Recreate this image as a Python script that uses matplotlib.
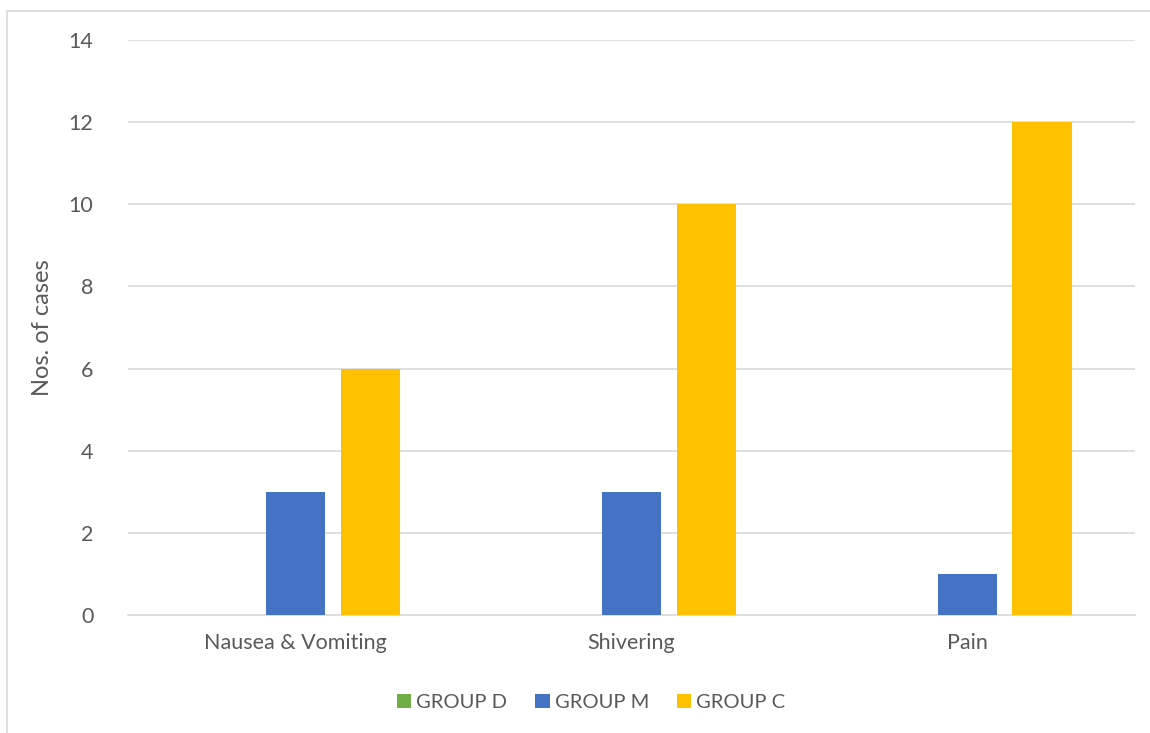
import numpy as np
import matplotlib.pyplot as plt
from matplotlib.patches import Rectangle

categories = ["Nausea & Vomiting", "Shivering", "Pain"]
groups = ["GROUP D", "GROUP M", "GROUP C"]
group_d = [0, 0, 0]
group_m = [3, 3, 1]
group_c = [6, 10, 12]
colors = ["#70AD47", "#4472C4", "#FFC000"]

plt.rcParams['font.family'] = ['Lato', 'DejaVu Sans']

fig = plt.figure(figsize=(11.5, 7.33), dpi=100)
ax = fig.add_axes([128 / 1150, 1 - 615 / 733, 1007 / 1150, 575 / 733])

# chart border like the Excel frame
fig.patches.append(Rectangle((7 / 1150, -0.01), 1.02, 1 - 11 / 733 + 0.01,
                             transform=fig.transFigure, fill=False,
                             edgecolor="#D9D9D9", linewidth=1.2))

x = np.arange(len(categories))
w = 0.176
step = 0.223
for i, (vals, name) in enumerate(zip([group_d, group_m, group_c], groups)):
    ax.bar(x + (i - 1) * step, vals, width=w, color=colors[i], label=name, zorder=3)

ax.set_xlim(-0.5, 2.5)
ax.set_ylim(0, 14)
ax.set_yticks(range(0, 15, 2))
ax.yaxis.grid(True, color="#D9D9D9", linewidth=1.2, zorder=0)
for s in ["top", "right", "left"]:
    ax.spines[s].set_visible(False)
ax.spines["bottom"].set_color("#D9D9D9")
ax.spines["bottom"].set_linewidth(1.2)
ax.tick_params(axis="both", length=0, labelsize=15.5, colors="#595959")
ax.tick_params(axis="y", pad=25)
ax.tick_params(axis="x", pad=13)
ax.set_xticks(x)
ax.set_xticklabels(categories)
ax.set_ylabel("Nos. of cases", fontsize=17, color="#595959", labelpad=11)

leg = ax.legend(loc="upper center", bbox_to_anchor=(0.46, -0.105), ncol=3,
                frameon=False, fontsize=14.5, handlelength=0.7, handleheight=0.7,
                handletextpad=0.25, columnspacing=1.4)
for t in leg.get_texts():
    t.set_color("#595959")

fig.savefig("out.png", dpi=100)
